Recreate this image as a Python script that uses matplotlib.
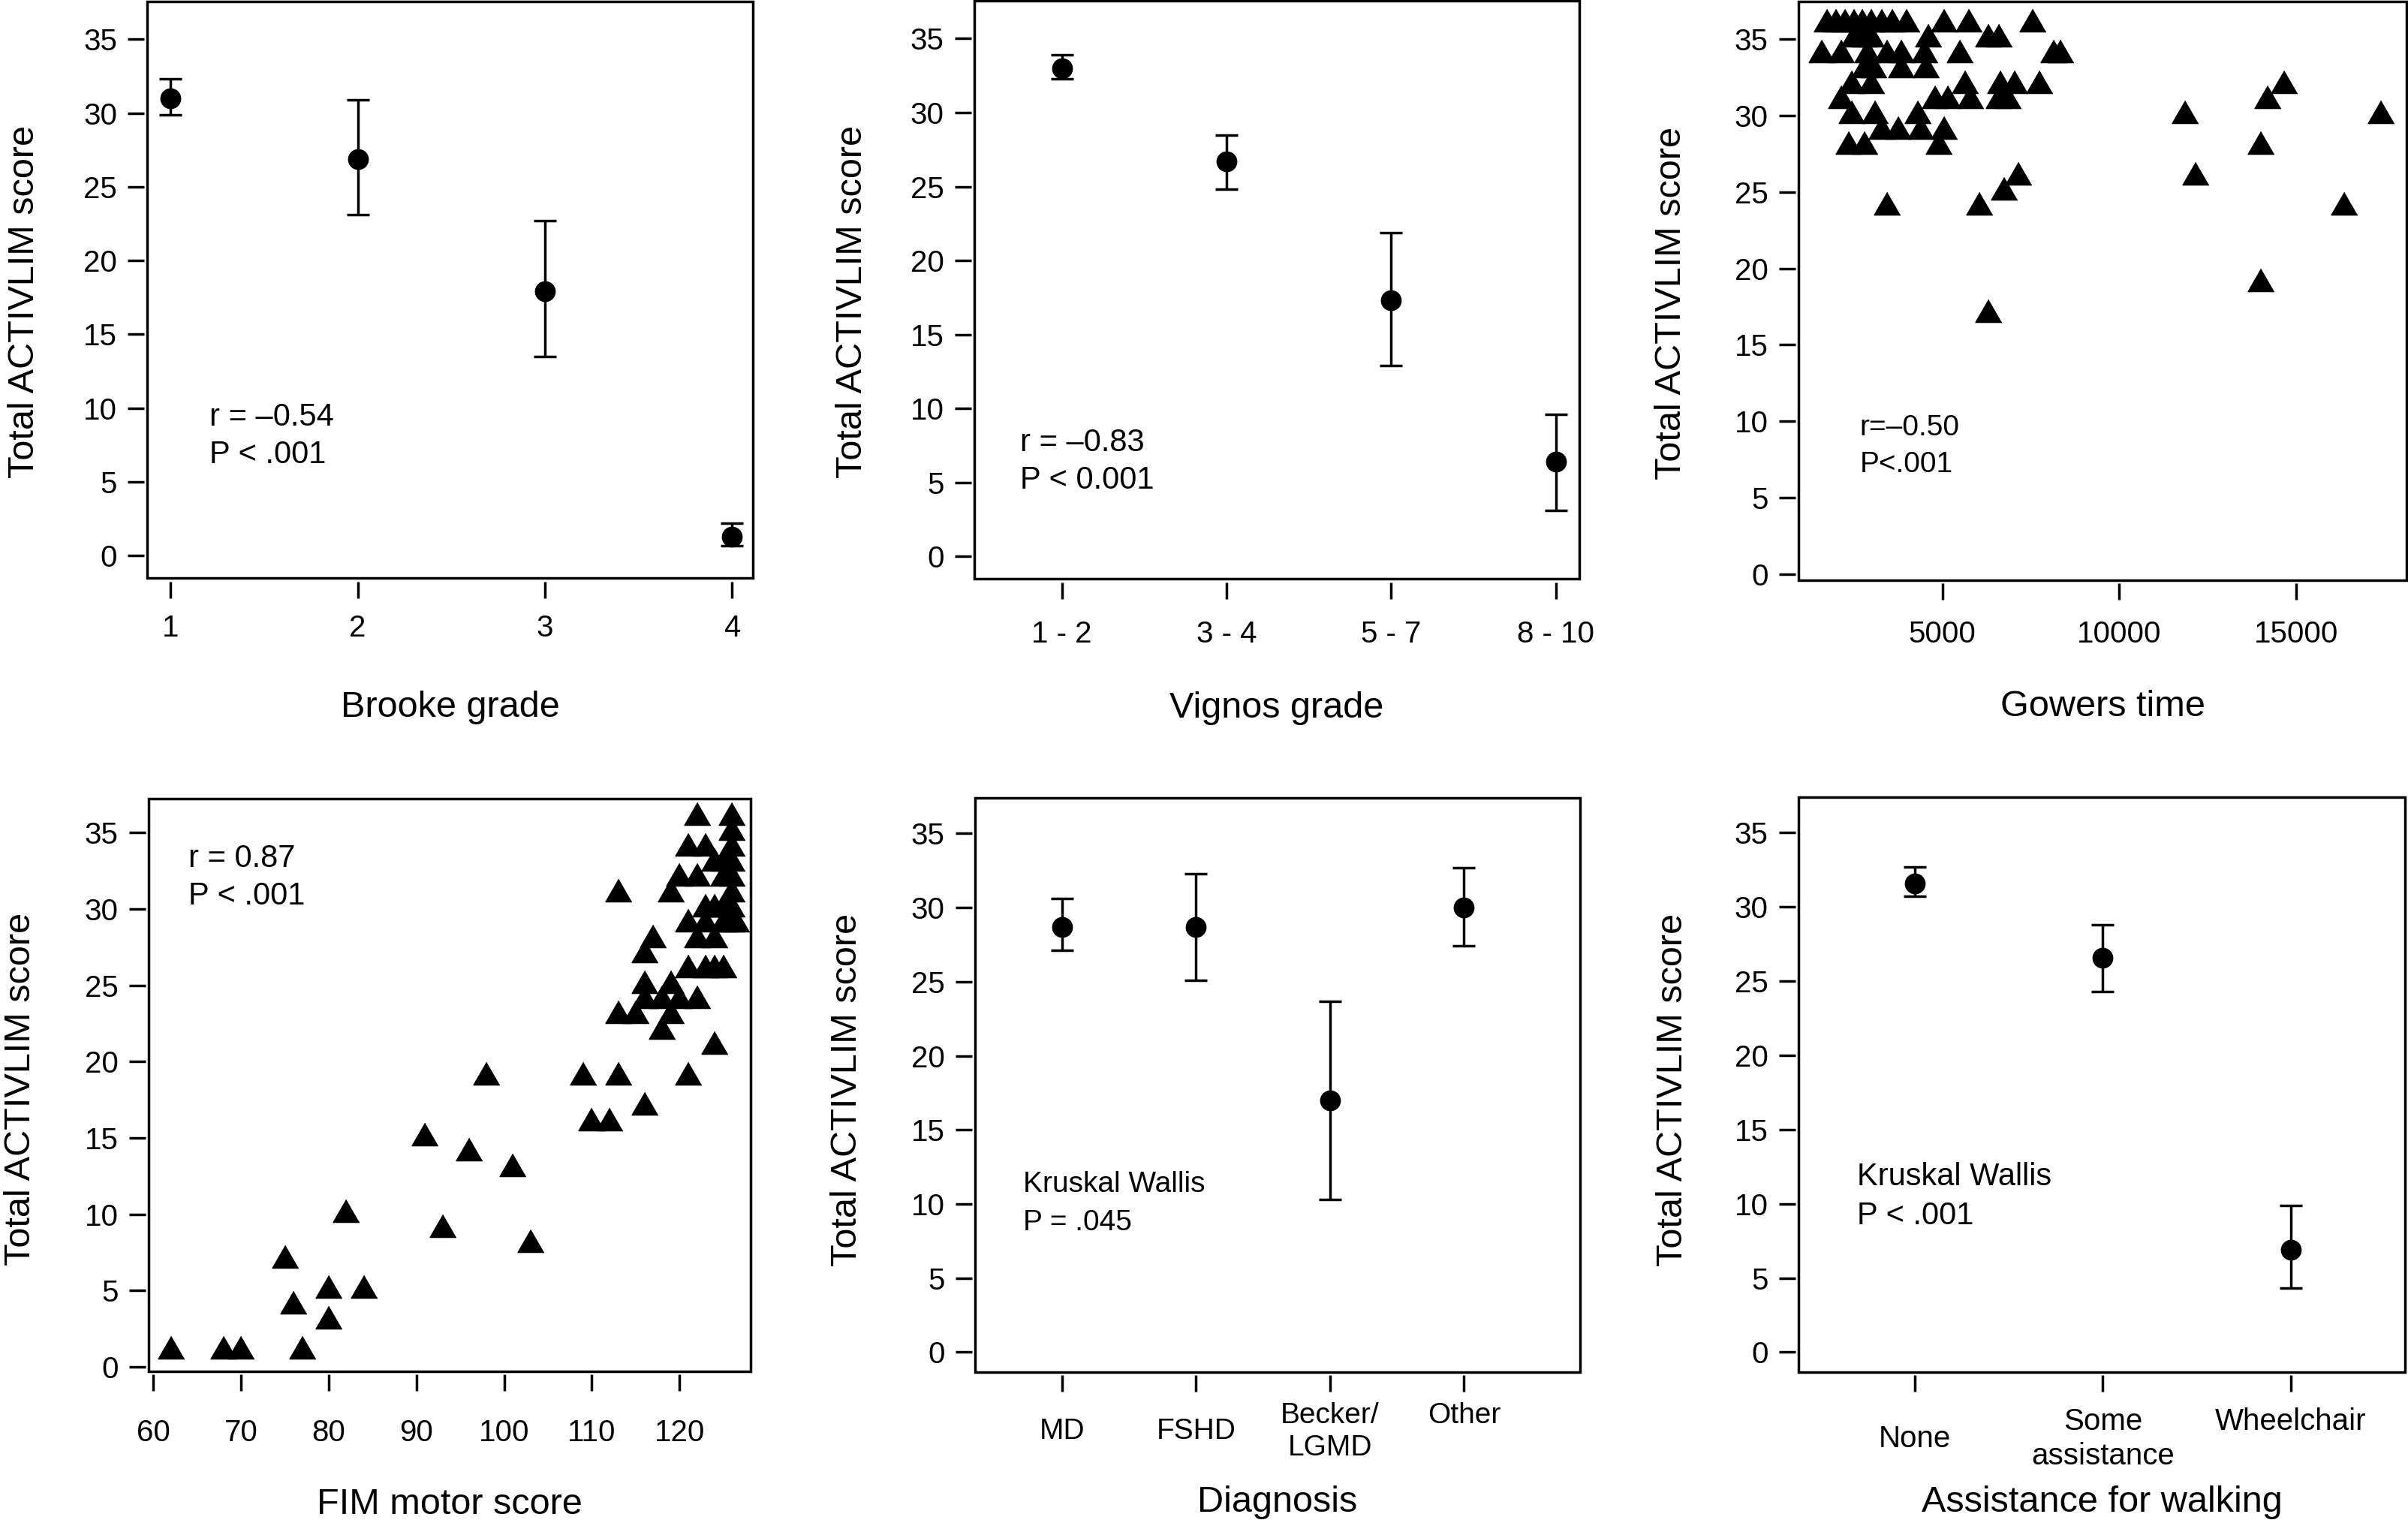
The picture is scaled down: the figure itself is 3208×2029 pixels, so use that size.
import matplotlib
matplotlib.use('Agg')
import matplotlib.pyplot as plt
from matplotlib.patches import Rectangle

plt.rcParams['font.family'] = ['Liberation Sans', 'DejaVu Sans']

# ---- data ----
brooke_labels = ['1', '2', '3', '4']
brooke_mean = [31.0, 26.9, 17.9, 1.3]
brooke_lo = [29.9, 23.1, 13.5, 0.7]
brooke_hi = [32.3, 30.9, 22.7, 2.2]

vignos_labels = ['1 - 2', '3 - 4', '5 - 7', '8 - 10']
vignos_mean = [33.0, 26.7, 17.3, 6.4]
vignos_lo = [32.3, 24.8, 12.9, 3.1]
vignos_hi = [33.9, 28.5, 21.9, 9.6]

gowers_time = [1750, 2000, 2250, 2500, 2750, 3000, 3300, 3600, 4000, 5050, 5750, 7550,
               2500, 2800, 3000, 4600, 6300, 6600,
               1600, 2150, 2900, 3450, 3850, 4500, 5500, 8150, 8350,
               2800, 3050, 3850, 4550,
               2450, 3000, 5650, 6650, 7050, 7750, 14650,
               2150, 4800, 5150, 5800, 6600, 6850, 14200,
               2450, 3100, 4300, 11850, 17400,
               3300, 3750, 4400, 5050,
               2350, 2800, 4900, 14000,
               7150, 12150,
               6750,
               3450, 6050, 16350,
               14000,
               6300]
gowers_score = [36, 36, 36, 36, 36, 36, 36, 36, 36, 36, 36, 36,
                35, 35, 35, 35, 35, 35,
                34, 34, 34, 34, 34, 34, 34, 34, 34,
                33, 33, 33, 33,
                32, 32, 32, 32, 32, 32, 32,
                31, 31, 31, 31, 31, 31, 31,
                30, 30, 30, 30, 30,
                29, 29, 29, 29,
                28, 28, 28, 28,
                26, 26,
                25,
                24, 24, 24,
                19,
                17]

fim_motor = [62, 68, 70, 77, 75, 76, 80, 80, 82, 84,
             91, 93, 96, 98, 101, 103,
             109, 110, 112, 113, 113, 113, 115, 116, 116, 117, 116, 116,
             118, 118, 119, 119, 120, 120, 119, 121, 121, 121, 121,
             122, 122, 122, 122, 123, 123, 123, 124, 124, 125, 124, 125, 125,
             126, 126, 126, 126, 126, 126, 126, 126, 125, 125, 124, 123, 124, 126.5]
fim_score = [1, 1, 1, 1, 7, 4, 5, 3, 10, 5,
             15, 9, 14, 19, 13, 8,
             19, 16, 16, 19, 31, 23, 23, 17, 27, 28, 25, 24,
             22, 24, 23, 25, 24, 32, 31, 29, 34, 19, 26,
             36, 32, 24, 28, 34, 30, 26, 21, 26, 26, 28, 32, 33,
             36, 35, 34, 33, 32, 31, 30, 29, 30, 29, 30, 29, 33, 29]

diag_labels = ['MD', 'FSHD', 'Becker/\nLGMD', 'Other\n']
diag_mean = [28.7, 28.7, 17.0, 30.0]
diag_lo = [27.1, 25.1, 10.3, 27.4]
diag_hi = [30.6, 32.3, 23.7, 32.7]

assist_labels = ['None', 'Some\nassistance', 'Wheelchair\n']
assist_mean = [31.6, 26.6, 6.9]
assist_lo = [30.7, 24.3, 4.3]
assist_hi = [32.7, 28.8, 9.9]

TRI = [(0, 1), (-0.866, -0.5), (0.866, -0.5)]
LW = 2.5

fig = plt.figure(figsize=(32.08, 20.29), dpi=100)


def frame(rect, xlim, ylim, pad, xlabel, label_y, ylabel_x, ylabel_y):
    ax = fig.add_axes(rect)
    ax.set_xlim(*xlim)
    ax.set_ylim(*ylim)
    for side in ['top', 'right']:
        ax.spines[side].set_visible(False)
    for side in ['bottom', 'left']:
        ax.spines[side].set_position(('outward', 3))
        ax.spines[side].set_visible(False)
    ax.add_patch(Rectangle((0, 0), 1, 1, transform=ax.transAxes, fill=False,
                           lw=LW, edgecolor='black', clip_on=False, zorder=5))
    ax.set_yticks([0, 5, 10, 15, 20, 25, 30, 35])
    ax.tick_params(axis='both', direction='out', length=16, width=LW, labelsize=29)
    ax.tick_params(axis='y', pad=10)
    ax.tick_params(axis='x', pad=pad)
    ax.set_xlabel(xlabel, fontsize=35)
    ax.xaxis.set_label_coords(0.5, label_y)
    ax.xaxis.label.set_va('center')
    ax.set_ylabel('Total ACTIVLIM score', fontsize=35)
    ax.yaxis.set_label_coords(ylabel_x, ylabel_y)
    ax.yaxis.label.set_va('center')
    return ax


def means(ax, labels, mean, lo, hi):
    pos = list(range(1, len(labels) + 1))
    err = [[m - l for m, l in zip(mean, lo)], [h - m for m, h in zip(mean, hi)]]
    ax.errorbar(pos, mean, yerr=err, fmt='o', color='black', markersize=19,
                elinewidth=LW, capsize=11, capthick=LW)
    ax.set_xticks(pos)
    ax.set_xticklabels(labels, va='center', linespacing=1.25)


def note(ax, x, y1, y2, l1, l2, size=30):
    ax.text(x, y1, l1, transform=ax.transAxes, fontsize=size, va='center', ha='left')
    ax.text(x, y2, l2, transform=ax.transAxes, fontsize=size, va='center', ha='left')


# Brooke grade
ax1 = frame([0.06125, 0.6203, 0.2514, 0.3787], (0.876, 4.112), (-1.53, 37.56), 29,
            'Brooke grade', -0.224, -0.203, 0.479)
means(ax1, brooke_labels, brooke_mean, brooke_lo, brooke_hi)
note(ax1, 0.102, 0.279, 0.214, 'r = \u20130.54', 'P < .001')

# Vignos grade
ax2 = frame([0.4046, 0.6198, 0.2512, 0.3797], (0.468, 4.141), (-1.53, 37.56), 34,
            'Vignos grade', -0.224, -0.202, 0.479)
means(ax2, vignos_labels, vignos_mean, vignos_lo, vignos_hi)
note(ax2, 0.076, 0.235, 0.171, 'r = \u20130.83', 'P < 0.001')

# Gowers time
ax3 = frame([0.7469, 0.6190, 0.2525, 0.3802], (940, 18117), (-0.42, 37.5), 33,
            'Gowers time', -0.218, -0.209, 0.479)
ax3.plot(gowers_time, gowers_score, linestyle='none', marker=TRI, markersize=29,
         color='black', clip_on=False)
ax3.set_xticks([5000, 10000, 15000])
for t in ax3.get_xticklabels():
    t.set_va('center')
note(ax3, 0.101, 0.263, 0.200, 'r=\u20130.50', 'P<.001', size=28)

# FIM motor score
ax4 = frame([0.0617, 0.0996, 0.2500, 0.3760], (59.46, 128.1), (-0.3, 37.23), 40,
            'FIM motor score', -0.233, -0.213, 0.493)
ax4.plot(fim_motor, fim_score, linestyle='none', marker=TRI, markersize=29,
         color='black', clip_on=False)
ax4.set_xticks([60, 70, 80, 90, 100, 110, 120])
for t in ax4.get_xticklabels():
    t.set_va('center')
note(ax4, 0.066, 0.895, 0.829, 'r = 0.87', 'P < .001')

# Diagnosis
ax5 = frame([0.4049, 0.0991, 0.2512, 0.3770], (0.352, 4.864), (-1.34, 37.4), 38,
            'Diagnosis', -0.227, -0.212, 0.491)
means(ax5, diag_labels, diag_mean, diag_lo, diag_hi)
for t in ax5.get_xticklabels():
    t.set_fontsize(28)
note(ax5, 0.080, 0.327, 0.260, 'Kruskal Wallis', 'P = .045', size=28)

# Assistance for walking
ax6 = frame([0.7469, 0.0991, 0.2519, 0.3775], (0.38, 3.61), (-1.34, 37.4), 45,
            'Assistance for walking', -0.227, -0.207, 0.491)
means(ax6, assist_labels, assist_mean, assist_lo, assist_hi)
note(ax6, 0.096, 0.339, 0.272, 'Kruskal Wallis', 'P < .001')

fig.savefig('out.png', dpi=100)
